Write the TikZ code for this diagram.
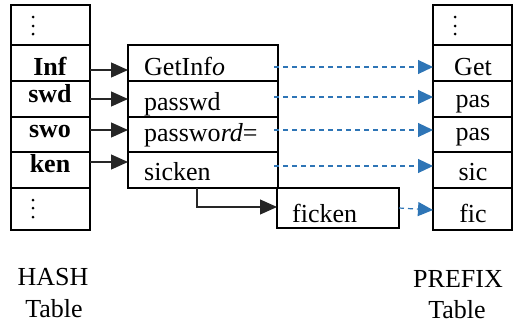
\documentclass[tikz,border=0pt]{standalone}
\usepackage{fontspec}
\setmainfont{Liberation Serif}
\usetikzlibrary{arrows.meta}
\definecolor{arrowblue}{HTML}{2E75B6}
\begin{document}
\begin{tikzpicture}[x=1pt,y=-1pt,
  font=\fontsize{26}{30}\selectfont,
  cell/.style={draw, rectangle, inner sep=0pt, outer sep=0pt, anchor=north west},
  thickcell/.style={cell, line width=2.8pt, minimum width=79pt},
  midcell/.style={cell, line width=2pt, minimum width=150pt},
  txt/.style={inner sep=0pt, anchor=base},
  ltxt/.style={inner sep=0pt, anchor=base west},
  blackarrow/.style={draw=black!85, line width=1.3pt, -{Triangle[length=17pt,width=15pt]}},
  bluearrow/.style={draw=arrowblue, line width=1.2pt, dash pattern=on 5pt off 4pt, -{Triangle[length=15pt,width=14pt]}},
  dotmark/.style={fill=black}
]
\useasboundingbox (0,0) rectangle (514,324);

% HASH table
\node[thickcell, minimum height=40pt] (h0) at (11,5) {};
\node[thickcell, minimum height=36pt] (h1) at (11,45) {};
\node[thickcell, minimum height=36pt] (h2) at (11,81) {};
\node[thickcell, minimum height=35pt] (h3) at (11,117) {};
\node[thickcell, minimum height=36pt] (h4) at (11,152) {};
\node[thickcell, minimum height=42pt] (h5) at (11,188) {};
\node[txt] (ht1) at (50,75) {\textbf{Inf}};
\node[txt] (ht2) at (50,102) {\textbf{swd}};
\node[txt] (ht3) at (50,137) {\textbf{swo}};
\node[txt] (ht4) at (50,172) {\textbf{ken}};
\foreach \yy in {17,26,34,200,208,217} \fill[dotmark] (33,\yy) circle (1.5pt);

% middle table
\node[midcell, minimum height=36pt] (m1) at (128,45) {};
\node[midcell, minimum height=36pt] (m2) at (128,81) {};
\node[midcell, minimum height=35pt] (m3) at (128,117) {};
\node[midcell, minimum height=36pt] (m4) at (128,152) {};
\node[ltxt] (mt1) at (144,75) {GetInf\textit{o}};
\node[ltxt] (mt2) at (144,110) {passwd};
\node[ltxt] (mt3) at (144,141) {passwo\textit{rd}=};
\node[ltxt] (mt4) at (144,180) {sicken};

% ficken box
\node[cell, line width=2.3pt, minimum width=122pt, minimum height=40pt] (fk) at (277,188) {};
\node[ltxt] (fkt) at (292,222) {ficken};

% PREFIX table
\node[thickcell, minimum height=40pt] (p0) at (433,5) {};
\node[thickcell, minimum height=36pt] (p1) at (433,45) {};
\node[thickcell, minimum height=36pt] (p2) at (433,81) {};
\node[thickcell, minimum height=35pt] (p3) at (433,117) {};
\node[thickcell, minimum height=36pt] (p4) at (433,152) {};
\node[thickcell, minimum height=42pt] (p5) at (433,188) {};
\node[txt] (pt1) at (473,75) {Get};
\node[txt] (pt2) at (473,107) {pas};
\node[txt] (pt3) at (473,140) {pas};
\node[txt] (pt4) at (473,180) {sic};
\node[txt] (pt5) at (473,222) {fic};
\foreach \yy in {17,26,34} \fill[dotmark] (455,\yy) circle (1.5pt);

% black arrows hash -> middle
\draw[blackarrow] ([yshift=-7pt]h1.east) -- ([yshift=-7pt]m1.west);
\draw[blackarrow] ([yshift=0pt]h2.east) -- ([yshift=0pt]m2.west);
\draw[blackarrow] ([yshift=4.5pt]h3.east) -- ([yshift=4.5pt]m3.west);
\draw[blackarrow] ([yshift=8pt]h4.east) -- ([yshift=8pt]m4.west);

% sicken -> ficken
\draw[blackarrow, line width=1.1pt] ([xshift=-6pt]m4.south) |- ([yshift=1pt]fk.west);

% blue dashed arrows
\draw[bluearrow] ([xshift=-4pt,yshift=-4pt]m1.east) -- ([yshift=-4pt]p1.west);
\draw[bluearrow] ([xshift=-4pt,yshift=2pt]m2.east) -- ([yshift=2pt]p2.west);
\draw[bluearrow] ([xshift=-4pt,yshift=4.5pt]m3.east) -- ([yshift=4.5pt]p3.west);
\draw[bluearrow] ([xshift=-4pt,yshift=4pt]m4.east) -- ([yshift=4pt]p4.west);
\draw[bluearrow] (fk.east) -- ([yshift=-1pt]p5.west);

% captions
\node[txt] (l1) at (53,285) {HASH};
\node[txt] (l2) at (54,317) {Table};
\node[txt] (l3) at (458,287) {PREFIX};
\node[txt] (l4) at (457,318) {Table};
\end{tikzpicture}
\end{document}
